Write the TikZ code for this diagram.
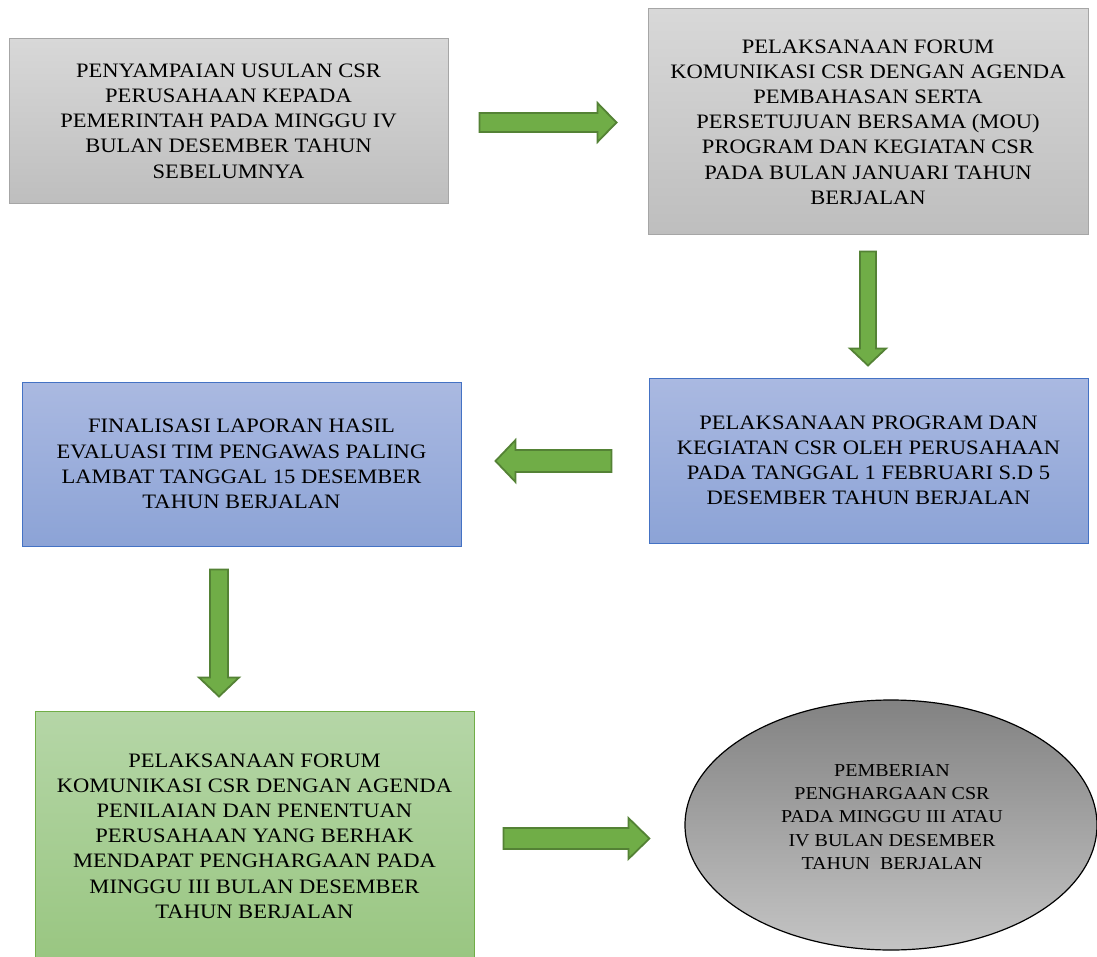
\documentclass[tikz,border=0pt]{standalone}
\usepackage{fontspec}
\setmainfont{Liberation Serif}[FakeStretch=1.1]
\usetikzlibrary{calc,shapes.geometric}
\definecolor{grayT}{HTML}{D8D8D8}
\definecolor{grayB}{HTML}{BEBEBE}
\definecolor{grayE}{HTML}{A6A6A6}
\definecolor{blueT}{HTML}{AAB9E1}
\definecolor{blueB}{HTML}{8CA3D6}
\definecolor{blueE}{HTML}{4472C4}
\definecolor{greenT}{HTML}{B5D6A7}
\definecolor{greenB}{HTML}{99C681}
\definecolor{greenE}{HTML}{70AD47}
\definecolor{arrF}{HTML}{70AD47}
\definecolor{arrE}{HTML}{548235}
\definecolor{ellT}{HTML}{828282}
\definecolor{ellB}{HTML}{C4C4C4}
\tikzset{
  box/.style={rectangle, inner sep=0pt, align=center, line width=1pt,
    font=\fontsize{20.5}{25.2}\selectfont},
  graybox/.style={box, draw=grayE, top color=grayT, bottom color=grayB},
  bluebox/.style={box, draw=blueE, top color=blueT, bottom color=blueB},
  greenbox/.style={box, draw=greenE, top color=greenT, bottom color=greenB},
  ellbox/.style={ellipse, inner sep=0pt, draw=black, line width=1.2pt,
    top color=ellT, bottom color=ellB},
  elltext/.style={inner sep=0pt, align=center, font=\fontsize{18.2}{23.3}\selectfont},
  barrow/.style={fill=arrF, draw=arrE, line width=1.8pt, line join=miter},
}
\newcommand\blockarr[5]{%
  \path ($(#2)!#5!(#1)$) coordinate (tmpb);
  \draw[barrow] ($(#1)!#3!90:(#2)$) -- ($(tmpb)!#3!90:(#2)$) -- ($(tmpb)!#4!90:(#2)$)
    -- (#2) -- ($(tmpb)!#4!-90:(#2)$) -- ($(tmpb)!#3!-90:(#2)$) -- ($(#1)!#3!-90:(#2)$) -- cycle;}
\begin{document}
\begin{tikzpicture}[x=1pt,y=-1pt]
\useasboundingbox (0,0) rectangle (1097,957);
\clip (0,0) rectangle (1097,957);
\fill[white] (0,0) rectangle (1097,957);
\node[graybox, minimum width=439pt, minimum height=165pt] (b1) at (228.5,121)
  {PENYAMPAIAN USULAN CSR\\PERUSAHAAN KEPADA\\PEMERINTAH PADA MINGGU IV\\BULAN DESEMBER TAHUN\\SEBELUMNYA};
\node[graybox, minimum width=440pt, minimum height=226pt] (b2) at (868,122)
  {PELAKSANAAN FORUM\\KOMUNIKASI CSR DENGAN AGENDA\\PEMBAHASAN SERTA\\PERSETUJUAN BERSAMA (MOU)\\PROGRAM DAN KEGIATAN CSR\\PADA BULAN JANUARI TAHUN\\BERJALAN};
\node[bluebox, minimum width=439pt, minimum height=165pt] (b3) at (868.5,460.5)
  {PELAKSANAAN PROGRAM DAN\\KEGIATAN CSR OLEH PERUSAHAAN\\PADA TANGGAL 1 FEBRUARI S.D 5\\DESEMBER TAHUN BERJALAN};
\node[bluebox, minimum width=439pt, minimum height=164pt] (b4) at (241.5,464)
  {FINALISASI LAPORAN HASIL\\EVALUASI TIM PENGAWAS PALING\\LAMBAT TANGGAL 15 DESEMBER\\TAHUN BERJALAN};
\node[greenbox, minimum width=439pt, minimum height=250pt] (b5) at (254.5,836)
  {PELAKSANAAN FORUM\\KOMUNIKASI CSR DENGAN AGENDA\\PENILAIAN DAN PENENTUAN\\PERUSAHAAN YANG BERHAK\\MENDAPAT PENGHARGAAN PADA\\MINGGU III BULAN DESEMBER\\TAHUN BERJALAN};
\node[ellbox, minimum width=412pt, minimum height=250pt] (e6) at (891,825) {};
\node[elltext] (e6t) at ($(e6.center)+(1,-8)$)
  {PEMBERIAN\\PENGHARGAAN CSR\\PADA MINGGU III ATAU\\IV BULAN DESEMBER\\TAHUN\ \ BERJALAN};
% connectors
\coordinate (a1s) at ($(b1.east)+(31,1.5)$);
\coordinate (a1e) at ($(b2.west)+(-31,0.5)$);
\blockarr{a1s}{a1e}{9.5pt}{19.5pt}{19pt}
\coordinate (a2s) at ($(b2.south)+(0,16)$);
\coordinate (a2e) at ($(b3.north)+(-0.5,-12)$);
\blockarr{a2s}{a2e}{8pt}{18pt}{17pt}
\coordinate (a3s) at ($(b3.west)+(-37,0.5)$);
\coordinate (a3e) at ($(b4.east)+(34,-3)$);
\blockarr{a3s}{a3e}{11pt}{21pt}{20pt}
\coordinate (a4s) at ($(b4.south)+(-22.5,23)$);
\coordinate (a4e) at ($(b5.north)+(-35.5,-14)$);
\blockarr{a4s}{a4e}{9pt}{20pt}{19pt}
\coordinate (a5s) at ($(b5.east)+(29,2.5)$);
\coordinate (a5e) at ($(e6.west)+(-35,13.5)$);
\blockarr{a5s}{a5e}{10.5pt}{20.5pt}{21pt}
\end{tikzpicture}
\end{document}
